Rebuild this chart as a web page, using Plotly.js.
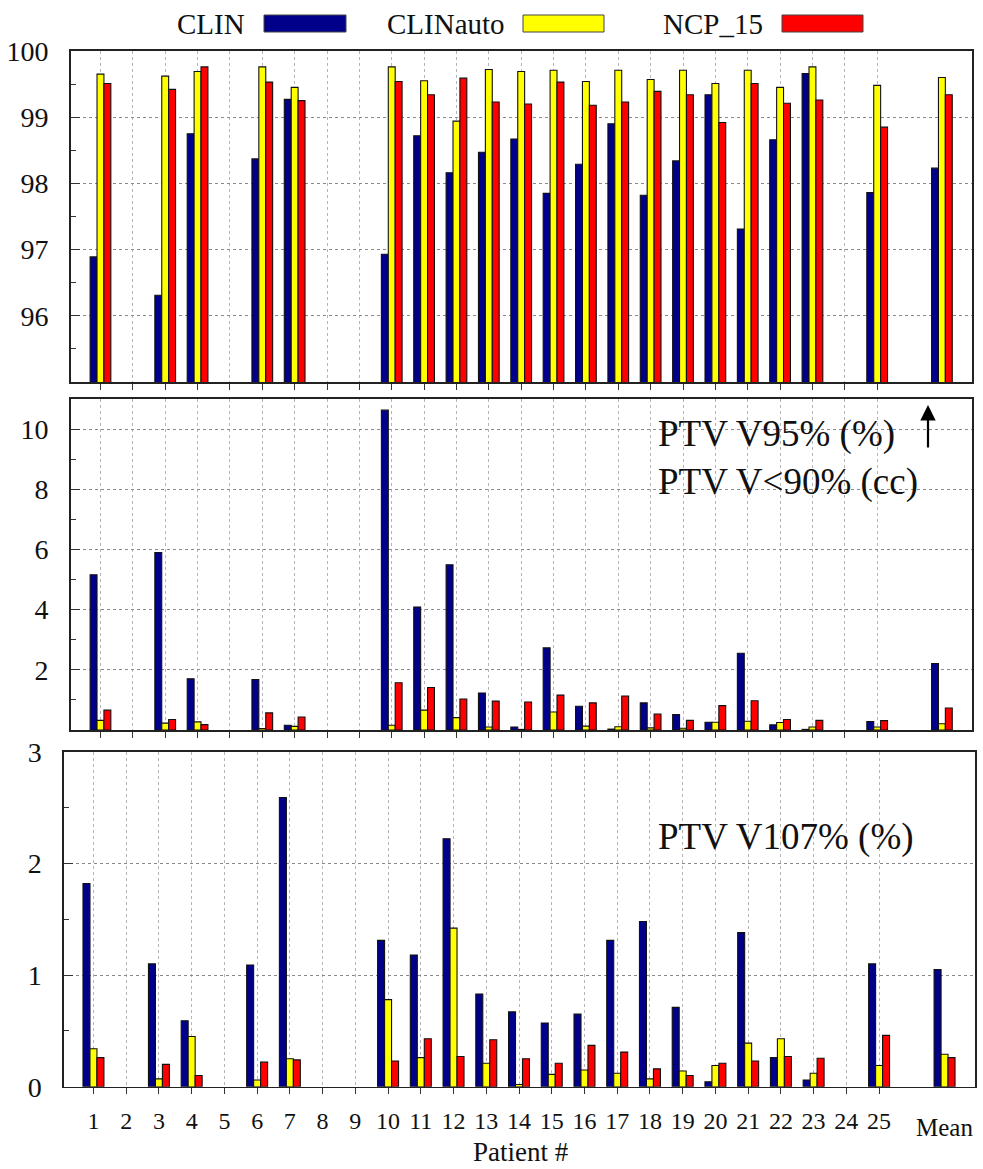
<!DOCTYPE html>
<html>
<head>
<meta charset="utf-8">
<script src="https://cdn.plot.ly/plotly-3.0.1.min.js"></script>
<style>html,body{margin:0;padding:0;background:#fff;}#chart{width:983px;height:1169px;}</style>
</head>
<body>
<div id="chart"></div>
<script>
// ---- data ----
const seriesNames = ['CLIN', 'CLINauto', 'NCP_15'];
const patients = ['1','3','4','6','7','10','11','12','13','14','15','16','17','18','19','20','21','22','23','25','Mean'];
const tickPatients = ['1','2','3','4','5','6','7','8','9','10','11','12','13','14','15','16','17','18','19','20','21','22','23','24','25'];

const v95_CLIN = [96.89,96.31,98.75,98.37,99.27,96.93,98.72,98.16,98.47,98.67,97.85,98.29,98.90,97.82,98.34,99.34,97.31,98.66,99.66,97.86,98.23];
const v95_CLINauto = [99.65,99.62,99.69,99.76,99.45,99.76,99.55,98.94,99.72,99.69,99.71,99.54,99.71,99.57,99.71,99.51,99.71,99.45,99.76,99.48,99.60];
const v95_NCP15 = [99.51,99.42,99.76,99.53,99.25,99.54,99.34,99.59,99.23,99.20,99.53,99.18,99.23,99.39,99.34,98.92,99.51,99.21,99.26,98.85,99.34];

const v90_CLIN = [5.16,5.90,1.70,1.68,0.16,10.63,4.09,5.49,1.23,0.10,2.73,0.79,0.03,0.90,0.51,0.26,2.55,0.17,0.02,0.28,2.21];
const v90_CLINauto = [0.32,0.23,0.27,0.05,0.12,0.16,0.66,0.41,0.10,0.02,0.60,0.13,0.11,0.07,0.06,0.26,0.29,0.25,0.10,0.10,0.21];
const v90_NCP15 = [0.66,0.35,0.18,0.57,0.43,1.57,1.41,1.03,0.96,0.93,1.16,0.90,1.13,0.53,0.32,0.81,0.97,0.35,0.32,0.31,0.73];

const v107_CLIN = [1.82,1.10,0.59,1.09,2.59,1.31,1.18,2.22,0.83,0.67,0.57,0.65,1.31,1.48,0.71,0.045,1.38,0.26,0.06,1.10,1.05];
const v107_CLINauto = [0.34,0.07,0.45,0.06,0.25,0.78,0.26,1.42,0.21,0.02,0.11,0.15,0.12,0.07,0.14,0.19,0.39,0.43,0.12,0.19,0.29];
const v107_NCP15 = [0.26,0.20,0.10,0.22,0.24,0.23,0.43,0.27,0.42,0.25,0.21,0.37,0.31,0.16,0.10,0.21,0.23,0.27,0.255,0.46,0.26];

// ---- styling ----
const colors = ['#00008B', '#FFFF00', '#FF0000'];
const FONT = '"Liberation Serif"';
const W = 983, H = 1169;
const px = v => v / W;
const py = v => 1 - v / H;

// category -> axis position (Mean sits two slots after the last patient)
const meanPos = tickPatients.length + 2;
const pos = patients.map(p => p === 'Mean' ? meanPos : Number(p));
const tickPos = tickPatients.map(Number);

const panels = [
  {vals: [v95_CLIN, v95_CLINauto, v95_NCP15], xa: 'x', ya: 'y'},
  {vals: [v90_CLIN, v90_CLINauto, v90_NCP15], xa: 'x2', ya: 'y2'},
  {vals: [v107_CLIN, v107_CLINauto, v107_NCP15], xa: 'x3', ya: 'y3'}
];

const traces = [];
panels.forEach(pn => {
  pn.vals.forEach((arr, i) => {
    traces.push({
      type: 'bar', x: pos, y: arr, name: seriesNames[i],
      xaxis: pn.xa, yaxis: pn.ya, showlegend: false,
      marker: {color: colors[i], line: {color: '#111', width: 1.1}},
      hoverinfo: 'x+y+name'
    });
  });
});

const frame = {showline: true, mirror: true, linecolor: '#222', linewidth: 1.6, zeroline: false};
function xax(domain, range, labels) {
  return Object.assign({}, frame, {
    domain: domain, range: range, tickmode: 'array', tickvals: tickPos, ticktext: tickPatients,
    showticklabels: labels, ticks: 'outside', ticklen: 6, tickcolor: '#333', tickwidth: 1,
    showgrid: true, gridcolor: '#b5b5b5', griddash: 'dot', gridwidth: 1,
    tickfont: {family: FONT, size: 24, color: '#111'}, ticklabelstandoff: 6
  });
}
function yax(domain, range, tickvals, minorDt, anchor) {
  return Object.assign({}, frame, {
    domain: domain, range: range, tickmode: 'array', tickvals: tickvals,
    ticks: 'inside', ticklen: 9, tickcolor: '#333', tickwidth: 1,
    showgrid: true, gridcolor: '#8a8a8a', griddash: 'dot', gridwidth: 1,
    minor: {dtick: minorDt, tick0: 0, ticks: 'inside', ticklen: 5, tickcolor: '#333', showgrid: false},
    tickfont: {family: FONT, size: 28, color: '#111'}, ticklabelstandoff: 15, anchor: anchor
  });
}

const annotations = [
  // legend texts
  {text: 'CLIN', x: px(211), y: py(24)},
  {text: 'CLINauto', x: px(446), y: py(24)},
  {text: 'NCP_15', x: px(713), y: py(24)}
].map(a => Object.assign({xref: 'paper', yref: 'paper', showarrow: false, xanchor: 'center', yanchor: 'middle', font: {family: FONT, size: 29, color: '#111'}}, a));

annotations.push(
  {text: 'PTV V95% (%)', xref: 'paper', yref: 'paper', x: px(656), y: py(434), xanchor: 'left', yanchor: 'middle', showarrow: false, font: {family: FONT, size: 37, color: '#111'}},
  {text: 'PTV V&lt;90% (cc)', xref: 'paper', yref: 'paper', x: px(656), y: py(482), xanchor: 'left', yanchor: 'middle', showarrow: false, font: {family: FONT, size: 37, color: '#111'}},
  {text: 'PTV V107% (%)', xref: 'paper', yref: 'paper', x: px(656), y: py(837), xanchor: 'left', yanchor: 'middle', showarrow: false, font: {family: FONT, size: 37, color: '#111'}},
  {text: '', xref: 'paper', yref: 'paper', x: px(928), y: py(405), showarrow: true, ax: 0, ay: 44, arrowhead: 2, arrowsize: 1.4, arrowwidth: 2.2, arrowcolor: '#000'},
  {text: 'Mean', xref: 'x3', yref: 'paper', x: meanPos, y: py(1127), xanchor: 'center', yanchor: 'middle', showarrow: false, font: {family: FONT, size: 25, color: '#111'}},
  {text: 'Patient #', xref: 'paper', yref: 'paper', x: px(521), y: py(1152), xanchor: 'center', yanchor: 'middle', showarrow: false, font: {family: FONT, size: 27, color: '#111'}}
);

const shapes = [[264, 346], [523, 604], [782, 863]].map((s, i) => ({
  type: 'rect', xref: 'paper', yref: 'paper', x0: px(s[0]), x1: px(s[1]), y0: py(15), y1: py(32),
  fillcolor: colors[i], line: {color: '#444', width: 1}
}));

const layout = {
  width: W, height: H, margin: {l: 0, r: 0, t: 0, b: 0, autoexpand: false},
  paper_bgcolor: '#fff', plot_bgcolor: '#fff',
  barmode: 'group', bargap: 0.36, bargroupgap: 0,
  showlegend: false,
  font: {family: FONT, color: '#111'},
  xaxis: xax([px(70.7), px(972)], [0.08, 27.93], false),
  yaxis: yax([py(382), py(51)], [95, 100], [96, 97, 98, 99, 100], 0.5, 'x'),
  xaxis2: Object.assign(xax([px(70.7), px(972)], [0.08, 27.93], false), {anchor: 'y2'}),
  yaxis2: yax([py(730), py(399)], [0, 11], [2, 4, 6, 8, 10], 1, 'x2'),
  xaxis3: Object.assign(xax([px(64), px(975)], [0.1, 27.93], true), {anchor: 'y3'}),
  yaxis3: yax([py(1086.7), py(751.7)], [0, 3], [0, 1, 2, 3], 0.5, 'x3'),
  annotations: annotations,
  shapes: shapes
};
layout.xaxis.anchor = 'y';

Plotly.newPlot('chart', traces, layout, {staticPlot: true, displayModeBar: false});
</script>
</body>
</html>
